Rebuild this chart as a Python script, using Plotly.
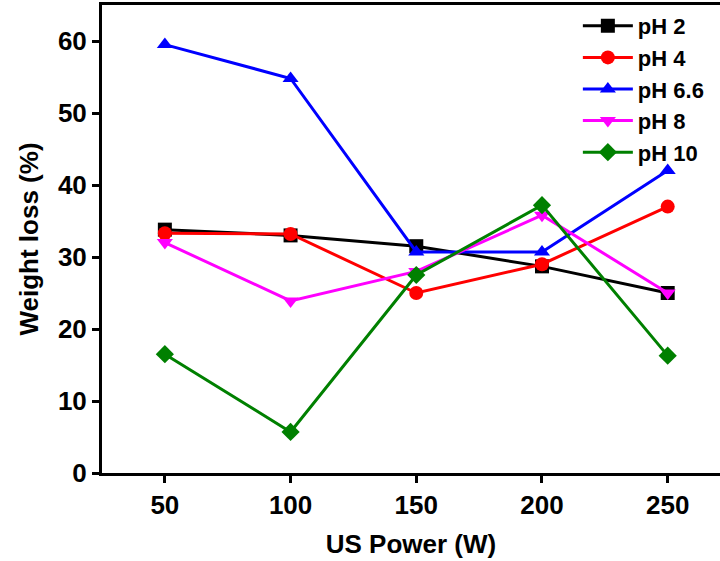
import plotly.graph_objects as go

power = [50, 100, 150, 200, 250]
ph2 = [33.8, 33.0, 31.5, 28.7, 25.0]
ph4 = [33.3, 33.2, 25.0, 29.0, 37.0]
ph66 = [59.5, 54.8, 30.7, 30.7, 42.0]
ph8 = [32.0, 23.9, 28.0, 35.8, 25.0]
ph10 = [16.5, 5.7, 27.5, 37.2, 16.3]

series = [
    ("pH 2", ph2, "black", "square"),
    ("pH 4", ph4, "#ff0000", "circle"),
    ("pH 6.6", ph66, "#0000ff", "triangle-up"),
    ("pH 8", ph8, "#ff00ff", "triangle-down"),
    ("pH 10", ph10, "#008000", "diamond"),
]

fig = go.Figure()
for name, vals, col, sym in series:
    fig.add_trace(go.Scatter(
        x=power, y=vals, name=name, mode="lines+markers",
        line=dict(color=col, width=3),
        marker=dict(symbol=sym, size=14, color=col),
    ))

font = "Liberation Sans, Arial, sans-serif"
fig.update_layout(
    width=720, height=561,
    margin=dict(l=102, r=0, t=5, b=88),
    paper_bgcolor="white", plot_bgcolor="white",
    font=dict(family=font, color="black"),
    showlegend=True,
    legend=dict(x=0.77, y=1.0, xanchor="left", yanchor="top",
                bgcolor="rgba(0,0,0,0)", font=dict(size=22, family=font, weight="bold"),
                tracegroupgap=0, itemwidth=50),
    xaxis=dict(
        range=[25, 270.8], tickvals=[50, 100, 150, 200, 250],
        showline=True, linecolor="black", linewidth=3, mirror=True,
        ticks="outside", ticklen=7, tickwidth=3, tickcolor="black",
        showgrid=False, zeroline=False,
        tickfont=dict(size=26, family=font, weight="bold"),
        title=dict(text="US Power (W)", font=dict(size=26, family=font, weight="bold"), standoff=16),
    ),
    yaxis=dict(
        range=[0, 65], tickvals=[0, 10, 20, 30, 40, 50, 60],
        showline=True, linecolor="black", linewidth=3, mirror=False,
        ticks="outside", ticklen=7, tickwidth=3, tickcolor="black",
        showgrid=False, zeroline=False,
        tickfont=dict(size=26, family=font, weight="bold"),
        title=dict(text="Weight loss (%)", font=dict(size=26, family=font, weight="bold"), standoff=12),
    ),
)

fig.write_html("out.html")
